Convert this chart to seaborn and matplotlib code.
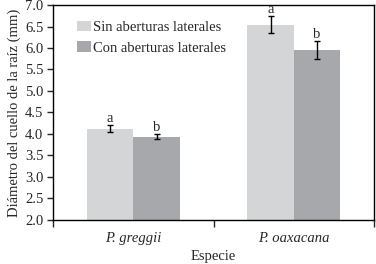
import numpy as np
import pandas as pd
import matplotlib
matplotlib.use("Agg")
import matplotlib.pyplot as plt
import seaborn as sns
from matplotlib.ticker import FixedLocator, FormatStrFormatter
from matplotlib.container import BarContainer

# ---- datos ----
especies = ["P. greggii", "P. oaxacana"]
tratamientos = ["Sin aberturas laterales", "Con aberturas laterales"]
media_sin = [4.12, 6.54]
media_con = [3.94, 5.95]
ee_sin = [0.08, 0.20]
ee_con = [0.05, 0.21]
letras_sin = ["a", "a"]
letras_con = ["b", "b"]

colores = ["#d4d5d7", "#a7a8ab"]

df = pd.DataFrame({
    "Especie": especies * 2,
    "Tratamiento": [tratamientos[0]] * 2 + [tratamientos[1]] * 2,
    "Diametro": media_sin + media_con,
})

sns.set_style("ticks")
plt.rcParams["font.family"] = ["Liberation Serif", "DejaVu Serif"]
FS = 10.5

fig = plt.figure(figsize=(3.76, 2.64), dpi=100)
ax = fig.add_axes([0.141, 0.167, 0.854, 0.814])

sns.barplot(data=df, x="Especie", y="Diametro", hue="Tratamiento",
            palette=colores, width=0.58, errorbar=None, saturation=1,
            linewidth=0, ax=ax)

# barras de error y letras
errs = [ee_sin, ee_con]
letras = [letras_sin, letras_con]
bar_conts = [c for c in ax.containers if isinstance(c, BarContainer)]
for i, cont in enumerate(bar_conts):
    for j, bar in enumerate(cont.patches):
        xc = bar.get_x() + bar.get_width() / 2
        h = bar.get_height()
        ax.errorbar(xc, h, yerr=errs[i][j], fmt="none", ecolor="black",
                    elinewidth=1, capsize=2.5, capthick=1)
        ax.text(xc, h + errs[i][j] + 0.01, letras[i][j], ha="center",
                va="bottom", fontsize=FS)

ax.set_ylim(2.0, 7.0)
ax.set_xlim(-0.5, 1.5)
ax.yaxis.set_major_locator(FixedLocator(np.arange(2.0, 7.01, 0.5)))
ax.yaxis.set_major_formatter(FormatStrFormatter("%.1f"))
ax.set_xticks([0, 1])
ax.set_xticklabels(especies, fontstyle="italic")
ax.tick_params(axis="x", which="major", length=0, pad=9, labelsize=FS)
ax.xaxis.set_minor_locator(FixedLocator([-0.5, 0.5, 1.5]))
ax.tick_params(axis="x", which="minor", length=5, width=1, direction="out")
ax.tick_params(axis="y", length=4, width=1, direction="out", labelsize=FS, pad=3)

for s in ax.spines.values():
    s.set_visible(True)
    s.set_linewidth(1)
    s.set_color("black")

ax.set_ylabel("Diámetro del cuello de la raíz (mm)", fontsize=FS, labelpad=3)
ax.set_xlabel("Especie", fontsize=FS, labelpad=3)

ax.legend(loc="upper left", bbox_to_anchor=(0.055, 0.955), frameon=False,
          fontsize=FS, handlelength=1.0, handleheight=0.75,
          handletextpad=0.15, labelspacing=0.5, borderaxespad=0)

fig.savefig("out.png", dpi=100)
